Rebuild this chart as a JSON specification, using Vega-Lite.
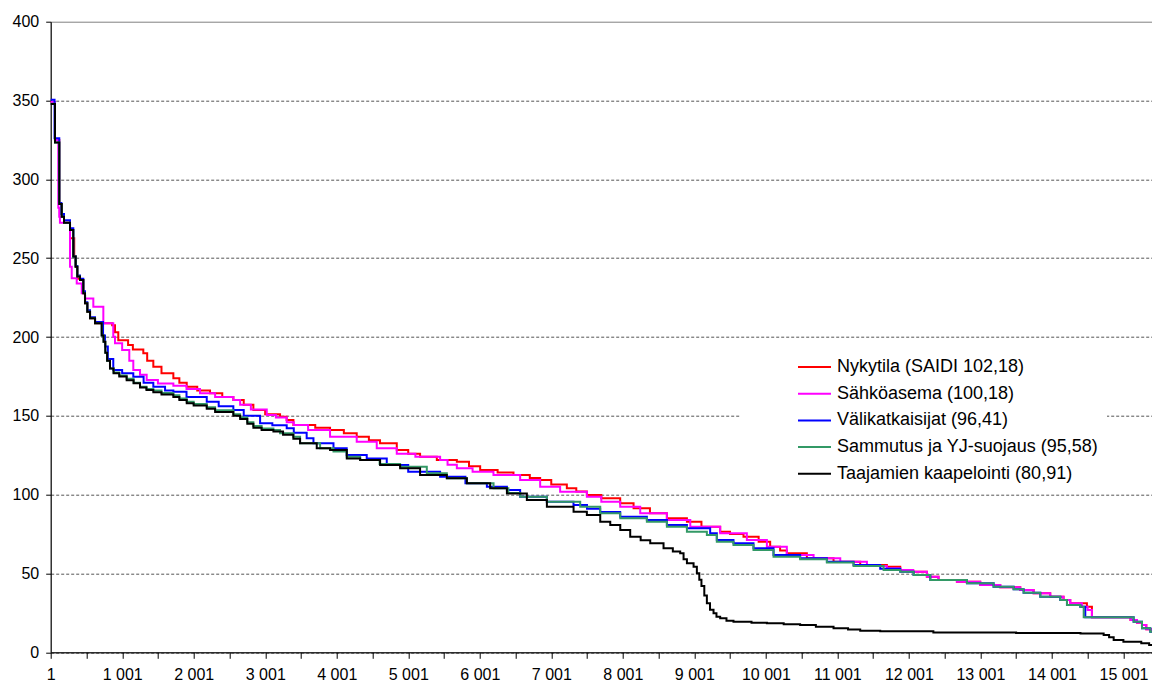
{
  "$schema": "https://vega.github.io/schema/vega-lite/v6.json",
  "width": 1101.3,
  "height": 630.6,
  "autosize": {"type": "none"},
  "padding": {"left": 50.7, "top": 21.7, "right": 0, "bottom": 31.7},
  "background": "white",
  "config": {
    "view": {"stroke": "#808080", "strokeWidth": 1},
    "axis": {"labelFont": "Liberation Sans", "labelFontSize": 16, "labelColor": "black", "domainColor": "black", "tickColor": "black", "title": null}
  },
  "data": {
    "values": [
      {"s":"Nykytila (SAIDI 102,18)","x":1,"y":349},{"s":"Nykytila (SAIDI 102,18)","x":61,"y":325},{"s":"Nykytila (SAIDI 102,18)","x":121,"y":284.4},{"s":"Nykytila (SAIDI 102,18)","x":155,"y":276.3},{"s":"Nykytila (SAIDI 102,18)","x":187,"y":272.5},{"s":"Nykytila (SAIDI 102,18)","x":271,"y":262.6},{"s":"Nykytila (SAIDI 102,18)","x":330,"y":251},{"s":"Nykytila (SAIDI 102,18)","x":350,"y":244.6},{"s":"Nykytila (SAIDI 102,18)","x":373,"y":237},{"s":"Nykytila (SAIDI 102,18)","x":411,"y":236.2},{"s":"Nykytila (SAIDI 102,18)","x":457,"y":227.7},{"s":"Nykytila (SAIDI 102,18)","x":481,"y":221.4},{"s":"Nykytila (SAIDI 102,18)","x":513,"y":216},{"s":"Nykytila (SAIDI 102,18)","x":551,"y":211.9},{"s":"Nykytila (SAIDI 102,18)","x":621,"y":208.7},{"s":"Nykytila (SAIDI 102,18)","x":860,"y":207.5},{"s":"Nykytila (SAIDI 102,18)","x":900,"y":203},{"s":"Nykytila (SAIDI 102,18)","x":946,"y":198},{"s":"Nykytila (SAIDI 102,18)","x":1083,"y":195},{"s":"Nykytila (SAIDI 102,18)","x":1150,"y":192},{"s":"Nykytila (SAIDI 102,18)","x":1296,"y":189.7},{"s":"Nykytila (SAIDI 102,18)","x":1350,"y":185},{"s":"Nykytila (SAIDI 102,18)","x":1436,"y":181.2},{"s":"Nykytila (SAIDI 102,18)","x":1550,"y":177},{"s":"Nykytila (SAIDI 102,18)","x":1716,"y":173.8},{"s":"Nykytila (SAIDI 102,18)","x":1800,"y":171},{"s":"Nykytila (SAIDI 102,18)","x":1903,"y":168.5},{"s":"Nykytila (SAIDI 102,18)","x":2050,"y":166},{"s":"Nykytila (SAIDI 102,18)","x":2229,"y":164.3},{"s":"Nykytila (SAIDI 102,18)","x":2400,"y":162},{"s":"Nykytila (SAIDI 102,18)","x":2555,"y":160},{"s":"Nykytila (SAIDI 102,18)","x":2700,"y":157},{"s":"Nykytila (SAIDI 102,18)","x":2835,"y":153.7},{"s":"Nykytila (SAIDI 102,18)","x":3000,"y":151},{"s":"Nykytila (SAIDI 102,18)","x":3208,"y":149.4},{"s":"Nykytila (SAIDI 102,18)","x":3300,"y":147.4},{"s":"Nykytila (SAIDI 102,18)","x":3395,"y":144.2},{"s":"Nykytila (SAIDI 102,18)","x":3700,"y":142.5},{"s":"Nykytila (SAIDI 102,18)","x":3907,"y":141},{"s":"Nykytila (SAIDI 102,18)","x":4100,"y":139},{"s":"Nykytila (SAIDI 102,18)","x":4280,"y":136.8},{"s":"Nykytila (SAIDI 102,18)","x":4450,"y":134.5},{"s":"Nykytila (SAIDI 102,18)","x":4606,"y":132.6},{"s":"Nykytila (SAIDI 102,18)","x":4840,"y":128.3},{"s":"Nykytila (SAIDI 102,18)","x":5000,"y":126},{"s":"Nykytila (SAIDI 102,18)","x":5166,"y":124.1},{"s":"Nykytila (SAIDI 102,18)","x":5400,"y":122},{"s":"Nykytila (SAIDI 102,18)","x":5680,"y":120.9},{"s":"Nykytila (SAIDI 102,18)","x":5850,"y":118},{"s":"Nykytila (SAIDI 102,18)","x":6006,"y":115.6},{"s":"Nykytila (SAIDI 102,18)","x":6250,"y":114},{"s":"Nykytila (SAIDI 102,18)","x":6472,"y":112.5},{"s":"Nykytila (SAIDI 102,18)","x":6700,"y":110.5},{"s":"Nykytila (SAIDI 102,18)","x":6845,"y":109.3},{"s":"Nykytila (SAIDI 102,18)","x":7000,"y":106.5},{"s":"Nykytila (SAIDI 102,18)","x":7218,"y":104},{"s":"Nykytila (SAIDI 102,18)","x":7350,"y":102},{"s":"Nykytila (SAIDI 102,18)","x":7498,"y":99.8},{"s":"Nykytila (SAIDI 102,18)","x":7700,"y":97.7},{"s":"Nykytila (SAIDI 102,18)","x":7964,"y":94.5},{"s":"Nykytila (SAIDI 102,18)","x":8151,"y":91.3},{"s":"Nykytila (SAIDI 102,18)","x":8380,"y":88.2},{"s":"Nykytila (SAIDI 102,18)","x":8617,"y":85},{"s":"Nykytila (SAIDI 102,18)","x":8897,"y":82.8},{"s":"Nykytila (SAIDI 102,18)","x":9100,"y":79.7},{"s":"Nykytila (SAIDI 102,18)","x":9362,"y":76.5},{"s":"Nykytila (SAIDI 102,18)","x":9500,"y":75},{"s":"Nykytila (SAIDI 102,18)","x":9688,"y":73.3},{"s":"Nykytila (SAIDI 102,18)","x":9900,"y":70.2},{"s":"Nykytila (SAIDI 102,18)","x":10061,"y":67},{"s":"Nykytila (SAIDI 102,18)","x":10200,"y":64.5},{"s":"Nykytila (SAIDI 102,18)","x":10294,"y":62.8},{"s":"Nykytila (SAIDI 102,18)","x":10574,"y":59.6},{"s":"Nykytila (SAIDI 102,18)","x":10947,"y":57.5},{"s":"Nykytila (SAIDI 102,18)","x":11320,"y":55.4},{"s":"Nykytila (SAIDI 102,18)","x":11693,"y":54.3},{"s":"Nykytila (SAIDI 102,18)","x":11880,"y":52.2},{"s":"Nykytila (SAIDI 102,18)","x":12060,"y":51.1},{"s":"Nykytila (SAIDI 102,18)","x":12252,"y":48},{"s":"Nykytila (SAIDI 102,18)","x":12415,"y":45.9},{"s":"Nykytila (SAIDI 102,18)","x":12672,"y":44.8},{"s":"Nykytila (SAIDI 102,18)","x":12998,"y":42.7},{"s":"Nykytila (SAIDI 102,18)","x":13278,"y":41.2},{"s":"Nykytila (SAIDI 102,18)","x":13558,"y":39.5},{"s":"Nykytila (SAIDI 102,18)","x":13744,"y":37.4},{"s":"Nykytila (SAIDI 102,18)","x":13977,"y":35.3},{"s":"Nykytila (SAIDI 102,18)","x":14163,"y":33.2},{"s":"Nykytila (SAIDI 102,18)","x":14257,"y":31.1},{"s":"Nykytila (SAIDI 102,18)","x":14490,"y":28.9},{"s":"Nykytila (SAIDI 102,18)","x":14560,"y":22.2},{"s":"Nykytila (SAIDI 102,18)","x":15100,"y":20.5},{"s":"Nykytila (SAIDI 102,18)","x":15190,"y":18.8},{"s":"Nykytila (SAIDI 102,18)","x":15260,"y":17.3},{"s":"Nykytila (SAIDI 102,18)","x":15320,"y":14.6},{"s":"Nykytila (SAIDI 102,18)","x":15400,"y":13.8},

      {"s":"Sähköasema (100,18)","x":1,"y":349},{"s":"Sähköasema (100,18)","x":61,"y":325},{"s":"Sähköasema (100,18)","x":107,"y":282},{"s":"Sähköasema (100,18)","x":120,"y":276.3},{"s":"Sähköasema (100,18)","x":130,"y":272.5},{"s":"Sähköasema (100,18)","x":271,"y":244.6},{"s":"Sähköasema (100,18)","x":295,"y":237.2},{"s":"Sähköasema (100,18)","x":365,"y":234},{"s":"Sähköasema (100,18)","x":435,"y":227.7},{"s":"Sähköasema (100,18)","x":480,"y":224.5},{"s":"Sähköasema (100,18)","x":597,"y":219.2},{"s":"Sähköasema (100,18)","x":737,"y":208.7},{"s":"Sähköasema (100,18)","x":876,"y":200.2},{"s":"Sähköasema (100,18)","x":900,"y":196},{"s":"Sähköasema (100,18)","x":1000,"y":191.8},{"s":"Sähköasema (100,18)","x":1100,"y":185},{"s":"Sähköasema (100,18)","x":1156,"y":179},{"s":"Sähköasema (100,18)","x":1250,"y":176},{"s":"Sähköasema (100,18)","x":1343,"y":172.7},{"s":"Sähköasema (100,18)","x":1500,"y":170.5},{"s":"Sähköasema (100,18)","x":1716,"y":169},{"s":"Sähköasema (100,18)","x":1900,"y":167},{"s":"Sähköasema (100,18)","x":2089,"y":164.3},{"s":"Sähköasema (100,18)","x":2300,"y":162},{"s":"Sähköasema (100,18)","x":2555,"y":160},{"s":"Sähköasema (100,18)","x":2650,"y":157},{"s":"Sähköasema (100,18)","x":2800,"y":154},{"s":"Sähköasema (100,18)","x":3022,"y":150.5},{"s":"Sähköasema (100,18)","x":3150,"y":149},{"s":"Sähköasema (100,18)","x":3301,"y":146},{"s":"Sähköasema (100,18)","x":3400,"y":144.2},{"s":"Sähköasema (100,18)","x":3600,"y":141},{"s":"Sähköasema (100,18)","x":3907,"y":136.8},{"s":"Sähköasema (100,18)","x":4280,"y":133.6},{"s":"Sähköasema (100,18)","x":4560,"y":129.4},{"s":"Sähköasema (100,18)","x":4840,"y":126},{"s":"Sähköasema (100,18)","x":5100,"y":124.1},{"s":"Sähköasema (100,18)","x":5446,"y":122},{"s":"Sähköasema (100,18)","x":5550,"y":119},{"s":"Sähköasema (100,18)","x":5680,"y":116.7},{"s":"Sähköasema (100,18)","x":5900,"y":114.5},{"s":"Sähköasema (100,18)","x":6192,"y":112.5},{"s":"Sähköasema (100,18)","x":6565,"y":109.3},{"s":"Sähköasema (100,18)","x":6845,"y":105},{"s":"Sähköasema (100,18)","x":7124,"y":101.9},{"s":"Sähköasema (100,18)","x":7498,"y":98.7},{"s":"Sähköasema (100,18)","x":7700,"y":95.5},{"s":"Sähköasema (100,18)","x":7964,"y":92.4},{"s":"Sähköasema (100,18)","x":8244,"y":88.2},{"s":"Sähköasema (100,18)","x":8617,"y":83.9},{"s":"Sähköasema (100,18)","x":8944,"y":79.7},{"s":"Sähköasema (100,18)","x":9362,"y":75.5},{"s":"Sähköasema (100,18)","x":9735,"y":71.2},{"s":"Sähköasema (100,18)","x":10015,"y":67},{"s":"Sähköasema (100,18)","x":10294,"y":61.7},{"s":"Sähköasema (100,18)","x":10668,"y":59.6},{"s":"Sähköasema (100,18)","x":11041,"y":57.5},{"s":"Sähköasema (100,18)","x":11414,"y":54.7},{"s":"Sähköasema (100,18)","x":11693,"y":53.3},{"s":"Sähköasema (100,18)","x":11880,"y":52.2},{"s":"Sähköasema (100,18)","x":12060,"y":51.1},{"s":"Sähköasema (100,18)","x":12252,"y":48},{"s":"Sähköasema (100,18)","x":12415,"y":45.9},{"s":"Sähköasema (100,18)","x":12672,"y":44.8},{"s":"Sähköasema (100,18)","x":12998,"y":42.7},{"s":"Sähköasema (100,18)","x":13278,"y":41.2},{"s":"Sähköasema (100,18)","x":13558,"y":39.5},{"s":"Sähköasema (100,18)","x":13744,"y":37.4},{"s":"Sähköasema (100,18)","x":13977,"y":35.3},{"s":"Sähköasema (100,18)","x":14163,"y":33.2},{"s":"Sähköasema (100,18)","x":14257,"y":31.1},{"s":"Sähköasema (100,18)","x":14420,"y":28.9},{"s":"Sähköasema (100,18)","x":14500,"y":26.8},{"s":"Sähköasema (100,18)","x":14560,"y":22.2},{"s":"Sähköasema (100,18)","x":15100,"y":20.5},{"s":"Sähköasema (100,18)","x":15190,"y":18.8},{"s":"Sähköasema (100,18)","x":15260,"y":17.3},{"s":"Sähköasema (100,18)","x":15320,"y":14.6},{"s":"Sähköasema (100,18)","x":15400,"y":13.8},

      {"s":"Välikatkaisijat (96,41)","x":1,"y":350.5},{"s":"Välikatkaisijat (96,41)","x":55,"y":326},{"s":"Välikatkaisijat (96,41)","x":121,"y":285},{"s":"Välikatkaisijat (96,41)","x":150,"y":278},{"s":"Välikatkaisijat (96,41)","x":187,"y":274},{"s":"Välikatkaisijat (96,41)","x":271,"y":269},{"s":"Välikatkaisijat (96,41)","x":317,"y":251},{"s":"Välikatkaisijat (96,41)","x":350,"y":245},{"s":"Välikatkaisijat (96,41)","x":373,"y":239},{"s":"Välikatkaisijat (96,41)","x":411,"y":237},{"s":"Välikatkaisijat (96,41)","x":457,"y":229},{"s":"Välikatkaisijat (96,41)","x":481,"y":222},{"s":"Välikatkaisijat (96,41)","x":513,"y":217},{"s":"Välikatkaisijat (96,41)","x":551,"y":212.5},{"s":"Välikatkaisijat (96,41)","x":621,"y":209.5},{"s":"Välikatkaisijat (96,41)","x":733,"y":201},{"s":"Välikatkaisijat (96,41)","x":760,"y":194},{"s":"Välikatkaisijat (96,41)","x":800,"y":186},{"s":"Välikatkaisijat (96,41)","x":876,"y":179},{"s":"Välikatkaisijat (96,41)","x":1000,"y":177},{"s":"Välikatkaisijat (96,41)","x":1156,"y":174.8},{"s":"Välikatkaisijat (96,41)","x":1300,"y":171},{"s":"Välikatkaisijat (96,41)","x":1436,"y":168.5},{"s":"Välikatkaisijat (96,41)","x":1600,"y":166},{"s":"Välikatkaisijat (96,41)","x":1716,"y":165.3},{"s":"Välikatkaisijat (96,41)","x":1900,"y":162},{"s":"Välikatkaisijat (96,41)","x":2183,"y":159},{"s":"Välikatkaisijat (96,41)","x":2350,"y":156},{"s":"Välikatkaisijat (96,41)","x":2555,"y":153.7},{"s":"Välikatkaisijat (96,41)","x":2700,"y":150},{"s":"Välikatkaisijat (96,41)","x":2929,"y":145.3},{"s":"Välikatkaisijat (96,41)","x":3100,"y":144},{"s":"Välikatkaisijat (96,41)","x":3301,"y":142.1},{"s":"Välikatkaisijat (96,41)","x":3400,"y":139.3},{"s":"Välikatkaisijat (96,41)","x":3580,"y":135.7},{"s":"Välikatkaisijat (96,41)","x":3675,"y":132.6},{"s":"Välikatkaisijat (96,41)","x":3955,"y":129.4},{"s":"Välikatkaisijat (96,41)","x":4140,"y":125.1},{"s":"Välikatkaisijat (96,41)","x":4420,"y":123},{"s":"Välikatkaisijat (96,41)","x":4700,"y":118.8},{"s":"Välikatkaisijat (96,41)","x":5000,"y":114.6},{"s":"Välikatkaisijat (96,41)","x":5446,"y":111.4},{"s":"Välikatkaisijat (96,41)","x":5800,"y":107.2},{"s":"Välikatkaisijat (96,41)","x":6100,"y":105},{"s":"Välikatkaisijat (96,41)","x":6380,"y":102.9},{"s":"Välikatkaisijat (96,41)","x":6565,"y":98.7},{"s":"Välikatkaisijat (96,41)","x":6938,"y":95.5},{"s":"Välikatkaisijat (96,41)","x":7311,"y":93.4},{"s":"Välikatkaisijat (96,41)","x":7500,"y":91},{"s":"Välikatkaisijat (96,41)","x":7684,"y":89},{"s":"Välikatkaisijat (96,41)","x":7964,"y":86},{"s":"Välikatkaisijat (96,41)","x":8337,"y":83.9},{"s":"Välikatkaisijat (96,41)","x":8617,"y":80.7},{"s":"Välikatkaisijat (96,41)","x":8897,"y":78.7},{"s":"Välikatkaisijat (96,41)","x":9222,"y":75.5},{"s":"Välikatkaisijat (96,41)","x":9315,"y":71.2},{"s":"Välikatkaisijat (96,41)","x":9548,"y":69.1},{"s":"Välikatkaisijat (96,41)","x":9828,"y":66},{"s":"Välikatkaisijat (96,41)","x":10108,"y":61.7},{"s":"Välikatkaisijat (96,41)","x":10480,"y":59.6},{"s":"Välikatkaisijat (96,41)","x":10854,"y":57.5},{"s":"Välikatkaisijat (96,41)","x":11227,"y":55.4},{"s":"Välikatkaisijat (96,41)","x":11600,"y":53},{"s":"Välikatkaisijat (96,41)","x":11880,"y":51.1},{"s":"Välikatkaisijat (96,41)","x":12067,"y":49},{"s":"Välikatkaisijat (96,41)","x":12300,"y":45.9},{"s":"Välikatkaisijat (96,41)","x":12812,"y":43.8},{"s":"Välikatkaisijat (96,41)","x":13185,"y":41.6},{"s":"Välikatkaisijat (96,41)","x":13465,"y":40},{"s":"Välikatkaisijat (96,41)","x":13605,"y":37.8},{"s":"Välikatkaisijat (96,41)","x":13838,"y":35.3},{"s":"Välikatkaisijat (96,41)","x":14118,"y":33.2},{"s":"Välikatkaisijat (96,41)","x":14211,"y":30},{"s":"Välikatkaisijat (96,41)","x":14397,"y":28.9},{"s":"Välikatkaisijat (96,41)","x":14467,"y":22.2},{"s":"Välikatkaisijat (96,41)","x":15143,"y":19.4},{"s":"Välikatkaisijat (96,41)","x":15260,"y":15.2},{"s":"Välikatkaisijat (96,41)","x":15376,"y":13.1},{"s":"Välikatkaisijat (96,41)","x":15400,"y":13.1},

      {"s":"Sammutus ja YJ-suojaus (95,58)","x":1,"y":348},{"s":"Sammutus ja YJ-suojaus (95,58)","x":61,"y":323.3},{"s":"Sammutus ja YJ-suojaus (95,58)","x":121,"y":284.4},{"s":"Sammutus ja YJ-suojaus (95,58)","x":155,"y":276.3},{"s":"Sammutus ja YJ-suojaus (95,58)","x":187,"y":272.5},{"s":"Sammutus ja YJ-suojaus (95,58)","x":271,"y":267.9},{"s":"Sammutus ja YJ-suojaus (95,58)","x":317,"y":251},{"s":"Sammutus ja YJ-suojaus (95,58)","x":350,"y":244.6},{"s":"Sammutus ja YJ-suojaus (95,58)","x":373,"y":238.3},{"s":"Sammutus ja YJ-suojaus (95,58)","x":411,"y":236.2},{"s":"Sammutus ja YJ-suojaus (95,58)","x":457,"y":227.7},{"s":"Sammutus ja YJ-suojaus (95,58)","x":481,"y":221.4},{"s":"Sammutus ja YJ-suojaus (95,58)","x":513,"y":216},{"s":"Sammutus ja YJ-suojaus (95,58)","x":551,"y":211.9},{"s":"Sammutus ja YJ-suojaus (95,58)","x":621,"y":208.7},{"s":"Sammutus ja YJ-suojaus (95,58)","x":714,"y":201},{"s":"Sammutus ja YJ-suojaus (95,58)","x":740,"y":197},{"s":"Sammutus ja YJ-suojaus (95,58)","x":765,"y":190},{"s":"Sammutus ja YJ-suojaus (95,58)","x":790,"y":185},{"s":"Sammutus ja YJ-suojaus (95,58)","x":830,"y":180},{"s":"Sammutus ja YJ-suojaus (95,58)","x":880,"y":177.5},{"s":"Sammutus ja YJ-suojaus (95,58)","x":960,"y":175.5},{"s":"Sammutus ja YJ-suojaus (95,58)","x":1063,"y":173.5},{"s":"Sammutus ja YJ-suojaus (95,58)","x":1160,"y":171},{"s":"Sammutus ja YJ-suojaus (95,58)","x":1250,"y":168.5},{"s":"Sammutus ja YJ-suojaus (95,58)","x":1340,"y":167},{"s":"Sammutus ja YJ-suojaus (95,58)","x":1436,"y":166},{"s":"Sammutus ja YJ-suojaus (95,58)","x":1550,"y":164.5},{"s":"Sammutus ja YJ-suojaus (95,58)","x":1716,"y":163},{"s":"Sammutus ja YJ-suojaus (95,58)","x":1800,"y":161},{"s":"Sammutus ja YJ-suojaus (95,58)","x":1903,"y":159},{"s":"Sammutus ja YJ-suojaus (95,58)","x":2000,"y":157.5},{"s":"Sammutus ja YJ-suojaus (95,58)","x":2183,"y":155.5},{"s":"Sammutus ja YJ-suojaus (95,58)","x":2300,"y":153.5},{"s":"Sammutus ja YJ-suojaus (95,58)","x":2555,"y":151},{"s":"Sammutus ja YJ-suojaus (95,58)","x":2650,"y":149},{"s":"Sammutus ja YJ-suojaus (95,58)","x":2750,"y":146},{"s":"Sammutus ja YJ-suojaus (95,58)","x":2835,"y":143.5},{"s":"Sammutus ja YJ-suojaus (95,58)","x":2950,"y":142},{"s":"Sammutus ja YJ-suojaus (95,58)","x":3115,"y":141},{"s":"Sammutus ja YJ-suojaus (95,58)","x":3208,"y":139},{"s":"Sammutus ja YJ-suojaus (95,58)","x":3394,"y":136.8},{"s":"Sammutus ja YJ-suojaus (95,58)","x":3488,"y":132.6},{"s":"Sammutus ja YJ-suojaus (95,58)","x":3768,"y":129.4},{"s":"Sammutus ja YJ-suojaus (95,58)","x":3955,"y":127.3},{"s":"Sammutus ja YJ-suojaus (95,58)","x":4141,"y":124.1},{"s":"Sammutus ja YJ-suojaus (95,58)","x":4328,"y":122},{"s":"Sammutus ja YJ-suojaus (95,58)","x":4600,"y":119.5},{"s":"Sammutus ja YJ-suojaus (95,58)","x":4887,"y":117.7},{"s":"Sammutus ja YJ-suojaus (95,58)","x":5260,"y":113.5},{"s":"Sammutus ja YJ-suojaus (95,58)","x":5540,"y":110.4},{"s":"Sammutus ja YJ-suojaus (95,58)","x":5820,"y":107.2},{"s":"Sammutus ja YJ-suojaus (95,58)","x":6193,"y":104},{"s":"Sammutus ja YJ-suojaus (95,58)","x":6400,"y":101},{"s":"Sammutus ja YJ-suojaus (95,58)","x":6566,"y":98.7},{"s":"Sammutus ja YJ-suojaus (95,58)","x":6939,"y":95.5},{"s":"Sammutus ja YJ-suojaus (95,58)","x":7405,"y":92.4},{"s":"Sammutus ja YJ-suojaus (95,58)","x":7685,"y":88.2},{"s":"Sammutus ja YJ-suojaus (95,58)","x":7965,"y":85},{"s":"Sammutus ja YJ-suojaus (95,58)","x":8337,"y":82.8},{"s":"Sammutus ja YJ-suojaus (95,58)","x":8617,"y":79.7},{"s":"Sammutus ja YJ-suojaus (95,58)","x":8897,"y":76.5},{"s":"Sammutus ja YJ-suojaus (95,58)","x":9176,"y":74.4},{"s":"Sammutus ja YJ-suojaus (95,58)","x":9315,"y":70.2},{"s":"Sammutus ja YJ-suojaus (95,58)","x":9548,"y":68},{"s":"Sammutus ja YJ-suojaus (95,58)","x":9828,"y":64.9},{"s":"Sammutus ja YJ-suojaus (95,58)","x":10108,"y":60.6},{"s":"Sammutus ja YJ-suojaus (95,58)","x":10480,"y":59},{"s":"Sammutus ja YJ-suojaus (95,58)","x":10854,"y":57},{"s":"Sammutus ja YJ-suojaus (95,58)","x":11227,"y":54.7},{"s":"Sammutus ja YJ-suojaus (95,58)","x":11647,"y":52.2},{"s":"Sammutus ja YJ-suojaus (95,58)","x":11880,"y":51.1},{"s":"Sammutus ja YJ-suojaus (95,58)","x":12067,"y":49},{"s":"Sammutus ja YJ-suojaus (95,58)","x":12300,"y":45.9},{"s":"Sammutus ja YJ-suojaus (95,58)","x":12812,"y":43.8},{"s":"Sammutus ja YJ-suojaus (95,58)","x":13185,"y":41.6},{"s":"Sammutus ja YJ-suojaus (95,58)","x":13465,"y":40},{"s":"Sammutus ja YJ-suojaus (95,58)","x":13605,"y":37.8},{"s":"Sammutus ja YJ-suojaus (95,58)","x":13838,"y":35.3},{"s":"Sammutus ja YJ-suojaus (95,58)","x":14118,"y":33.2},{"s":"Sammutus ja YJ-suojaus (95,58)","x":14211,"y":30},{"s":"Sammutus ja YJ-suojaus (95,58)","x":14397,"y":28.9},{"s":"Sammutus ja YJ-suojaus (95,58)","x":14445,"y":22.2},{"s":"Sammutus ja YJ-suojaus (95,58)","x":15143,"y":19.4},{"s":"Sammutus ja YJ-suojaus (95,58)","x":15260,"y":15.2},{"s":"Sammutus ja YJ-suojaus (95,58)","x":15376,"y":13.1},{"s":"Sammutus ja YJ-suojaus (95,58)","x":15400,"y":13.1},

      {"s":"Taajamien kaapelointi (80,91)","x":1,"y":347.8},{"s":"Taajamien kaapelointi (80,91)","x":61,"y":323.3},{"s":"Taajamien kaapelointi (80,91)","x":121,"y":284.4},{"s":"Taajamien kaapelointi (80,91)","x":155,"y":276.3},{"s":"Taajamien kaapelointi (80,91)","x":187,"y":272.5},{"s":"Taajamien kaapelointi (80,91)","x":271,"y":267.9},{"s":"Taajamien kaapelointi (80,91)","x":317,"y":251},{"s":"Taajamien kaapelointi (80,91)","x":350,"y":244.6},{"s":"Taajamien kaapelointi (80,91)","x":373,"y":238.3},{"s":"Taajamien kaapelointi (80,91)","x":411,"y":236.2},{"s":"Taajamien kaapelointi (80,91)","x":457,"y":227.7},{"s":"Taajamien kaapelointi (80,91)","x":481,"y":221.4},{"s":"Taajamien kaapelointi (80,91)","x":513,"y":216},{"s":"Taajamien kaapelointi (80,91)","x":551,"y":211.9},{"s":"Taajamien kaapelointi (80,91)","x":621,"y":208.7},{"s":"Taajamien kaapelointi (80,91)","x":714,"y":201},{"s":"Taajamien kaapelointi (80,91)","x":740,"y":197},{"s":"Taajamien kaapelointi (80,91)","x":765,"y":190},{"s":"Taajamien kaapelointi (80,91)","x":790,"y":185},{"s":"Taajamien kaapelointi (80,91)","x":830,"y":180},{"s":"Taajamien kaapelointi (80,91)","x":880,"y":177},{"s":"Taajamien kaapelointi (80,91)","x":960,"y":175},{"s":"Taajamien kaapelointi (80,91)","x":1063,"y":172.5},{"s":"Taajamien kaapelointi (80,91)","x":1160,"y":170.6},{"s":"Taajamien kaapelointi (80,91)","x":1250,"y":168},{"s":"Taajamien kaapelointi (80,91)","x":1340,"y":166.4},{"s":"Taajamien kaapelointi (80,91)","x":1436,"y":165},{"s":"Taajamien kaapelointi (80,91)","x":1550,"y":163.5},{"s":"Taajamien kaapelointi (80,91)","x":1716,"y":162},{"s":"Taajamien kaapelointi (80,91)","x":1800,"y":160},{"s":"Taajamien kaapelointi (80,91)","x":1903,"y":158},{"s":"Taajamien kaapelointi (80,91)","x":2000,"y":156.5},{"s":"Taajamien kaapelointi (80,91)","x":2183,"y":154.5},{"s":"Taajamien kaapelointi (80,91)","x":2300,"y":152.5},{"s":"Taajamien kaapelointi (80,91)","x":2555,"y":150},{"s":"Taajamien kaapelointi (80,91)","x":2650,"y":148},{"s":"Taajamien kaapelointi (80,91)","x":2750,"y":145},{"s":"Taajamien kaapelointi (80,91)","x":2835,"y":142.5},{"s":"Taajamien kaapelointi (80,91)","x":2950,"y":141},{"s":"Taajamien kaapelointi (80,91)","x":3115,"y":140},{"s":"Taajamien kaapelointi (80,91)","x":3250,"y":138},{"s":"Taajamien kaapelointi (80,91)","x":3394,"y":135.5},{"s":"Taajamien kaapelointi (80,91)","x":3488,"y":132.6},{"s":"Taajamien kaapelointi (80,91)","x":3721,"y":129.4},{"s":"Taajamien kaapelointi (80,91)","x":3907,"y":128.3},{"s":"Taajamien kaapelointi (80,91)","x":4141,"y":123},{"s":"Taajamien kaapelointi (80,91)","x":4328,"y":122},{"s":"Taajamien kaapelointi (80,91)","x":4607,"y":118.8},{"s":"Taajamien kaapelointi (80,91)","x":4887,"y":116.7},{"s":"Taajamien kaapelointi (80,91)","x":5166,"y":112.5},{"s":"Taajamien kaapelointi (80,91)","x":5540,"y":110.4},{"s":"Taajamien kaapelointi (80,91)","x":5820,"y":107.2},{"s":"Taajamien kaapelointi (80,91)","x":6146,"y":104},{"s":"Taajamien kaapelointi (80,91)","x":6380,"y":100.8},{"s":"Taajamien kaapelointi (80,91)","x":6659,"y":96.6},{"s":"Taajamien kaapelointi (80,91)","x":6939,"y":92.4},{"s":"Taajamien kaapelointi (80,91)","x":7312,"y":89.2},{"s":"Taajamien kaapelointi (80,91)","x":7498,"y":87.1},{"s":"Taajamien kaapelointi (80,91)","x":7685,"y":82.8},{"s":"Taajamien kaapelointi (80,91)","x":7825,"y":80.7},{"s":"Taajamien kaapelointi (80,91)","x":7965,"y":77.6},{"s":"Taajamien kaapelointi (80,91)","x":8104,"y":73.3},{"s":"Taajamien kaapelointi (80,91)","x":8250,"y":71},{"s":"Taajamien kaapelointi (80,91)","x":8384,"y":69.1},{"s":"Taajamien kaapelointi (80,91)","x":8570,"y":66},{"s":"Taajamien kaapelointi (80,91)","x":8700,"y":64},{"s":"Taajamien kaapelointi (80,91)","x":8803,"y":62.8},{"s":"Taajamien kaapelointi (80,91)","x":8850,"y":59},{"s":"Taajamien kaapelointi (80,91)","x":8897,"y":56.5},{"s":"Taajamien kaapelointi (80,91)","x":8990,"y":54.3},{"s":"Taajamien kaapelointi (80,91)","x":9036,"y":50.1},{"s":"Taajamien kaapelointi (80,91)","x":9070,"y":46},{"s":"Taajamien kaapelointi (80,91)","x":9100,"y":42},{"s":"Taajamien kaapelointi (80,91)","x":9140,"y":36},{"s":"Taajamien kaapelointi (80,91)","x":9176,"y":31.1},{"s":"Taajamien kaapelointi (80,91)","x":9220,"y":27},{"s":"Taajamien kaapelointi (80,91)","x":9269,"y":24.7},{"s":"Taajamien kaapelointi (80,91)","x":9310,"y":22.5},{"s":"Taajamien kaapelointi (80,91)","x":9362,"y":21.6},{"s":"Taajamien kaapelointi (80,91)","x":9450,"y":20},{"s":"Taajamien kaapelointi (80,91)","x":9548,"y":19.4},{"s":"Taajamien kaapelointi (80,91)","x":9800,"y":18.8},{"s":"Taajamien kaapelointi (80,91)","x":10015,"y":18.4},{"s":"Taajamien kaapelointi (80,91)","x":10250,"y":17.8},{"s":"Taajamien kaapelointi (80,91)","x":10480,"y":17.3},{"s":"Taajamien kaapelointi (80,91)","x":10700,"y":16.2},{"s":"Taajamien kaapelointi (80,91)","x":10947,"y":15.2},{"s":"Taajamien kaapelointi (80,91)","x":11150,"y":14.4},{"s":"Taajamien kaapelointi (80,91)","x":11320,"y":13.7},{"s":"Taajamien kaapelointi (80,91)","x":11600,"y":13.3},{"s":"Taajamien kaapelointi (80,91)","x":12343,"y":12.6},{"s":"Taajamien kaapelointi (80,91)","x":13500,"y":12.3},{"s":"Taajamien kaapelointi (80,91)","x":14400,"y":12},{"s":"Taajamien kaapelointi (80,91)","x":14724,"y":11},{"s":"Taajamien kaapelointi (80,91)","x":14800,"y":9.5},{"s":"Taajamien kaapelointi (80,91)","x":14864,"y":7.8},{"s":"Taajamien kaapelointi (80,91)","x":15000,"y":6.7},{"s":"Taajamien kaapelointi (80,91)","x":15250,"y":5.7},{"s":"Taajamien kaapelointi (80,91)","x":15360,"y":4.6},{"s":"Taajamien kaapelointi (80,91)","x":15400,"y":4.6}
    ]
  },
  "encoding": {
    "x": {
      "field": "x", "type": "quantitative",
      "scale": {"domain": [1, 15400], "nice": false, "zero": false},
      "axis": {
        "values": [1,501,1001,1501,2001,2501,3001,3501,4001,4501,5001,5501,6001,6501,7001,7501,8001,8501,9001,9501,10001,10501,11001,11501,12001,12501,13001,13501,14001,14501,15001],
        "labelExpr": "(datum.value - 1) % 1000 == 0 ? replace(format(datum.value, ','), ',', ' ') : ''",
        "labelOverlap": false, "labelFlush": false, "grid": false,
        "tickSize": 6, "labelPadding": 8
      }
    },
    "y": {
      "field": "y", "type": "quantitative",
      "scale": {"domain": [0, 400], "nice": false},
      "axis": {
        "values": [0,50,100,150,200,250,300,350,400],
        "grid": true, "gridColor": "#555555", "gridDash": [3, 2], "gridWidth": 1,
        "gridOpacity": {"condition": {"test": "datum.value == 400", "value": 0}, "value": 1},
        "tickSize": 5, "labelPadding": 7
      }
    },
    "color": {
      "field": "s", "type": "nominal",
      "scale": {
        "domain": ["Nykytila (SAIDI 102,18)", "Sähköasema (100,18)", "Välikatkaisijat (96,41)", "Sammutus ja YJ-suojaus (95,58)", "Taajamien kaapelointi (80,91)"],
        "range": ["#FF0000", "#FF00FF", "#0000FF", "#339966", "#000000"]
      },
      "legend": {
        "title": null, "orient": "none", "legendX": 689.3, "legendY": 328.3,
        "fillColor": "white", "padding": 8,
        "symbolType": "stroke", "symbolSize": 1089, "symbolStrokeWidth": 2, "symbolOffset": 49,
        "labelOffset": 5, "labelFont": "Liberation Sans", "labelFontSize": 18, "labelColor": "black",
        "labelLimit": 500, "rowPadding": 8.7, "clipHeight": 18
      }
    }
  },
  "layer": [
    {"transform": [{"filter": {"field": "s", "equal": "Nykytila (SAIDI 102,18)"}}], "mark": {"type": "line", "interpolate": "step-after", "strokeWidth": 2}},
    {"transform": [{"filter": {"field": "s", "equal": "Sähköasema (100,18)"}}], "mark": {"type": "line", "interpolate": "step-after", "strokeWidth": 2}},
    {"transform": [{"filter": {"field": "s", "equal": "Välikatkaisijat (96,41)"}}], "mark": {"type": "line", "interpolate": "step-after", "strokeWidth": 2}},
    {"transform": [{"filter": {"field": "s", "equal": "Sammutus ja YJ-suojaus (95,58)"}}], "mark": {"type": "line", "interpolate": "step-after", "strokeWidth": 2}},
    {"transform": [{"filter": {"field": "s", "equal": "Taajamien kaapelointi (80,91)"}}], "mark": {"type": "line", "interpolate": "step-after", "strokeWidth": 2}}
  ]
}
